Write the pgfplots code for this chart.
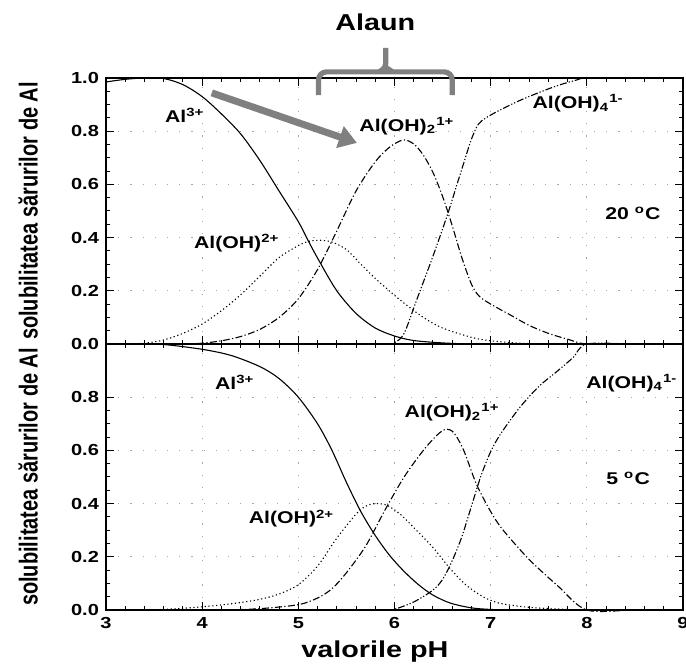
\documentclass[border=0pt]{standalone}
\usepackage{pgfplots}
\pgfplotsset{compat=1.18}
\usepackage{fontspec}
\setmainfont{Liberation Sans}
\usepackage{graphicx}
\usetikzlibrary{arrows.meta}
\definecolor{anngray}{RGB}{128,128,128}
\newcommand{\hs}[1]{\scalebox{1.25}[1]{#1}}
\tikzset{
  sdot/.style={dash pattern=on 0.6pt off 1.3pt},
  sdash/.style={dash pattern=on 3.5pt off 1.2pt on 0.6pt off 1.2pt},
  sdd/.style={dash pattern=on 3.5pt off 1pt on 0.6pt off 1pt on 0.6pt off 1pt},
  lab/.style={font=\bfseries\fontsize{8.5}{10}\selectfont},
}
\pgfplotsset{
  panel/.style={
    scale only axis, width=288.5pt, height=133pt,
    xmin=3, xmax=9, ymin=0, ymax=1,
    xtick={3,4,5,6,7,8,9}, minor x tick num=4, minor y tick num=3,
    tick align=inside,
    major tick length=4pt, minor tick length=2pt,
    grid=major,
    major grid style={gray!70, line width=0.5pt, dash pattern=on 0.6pt off 5.5pt},
    axis line style={line width=0.6pt},
    every tick/.style={black, line width=0.5pt},
    tick label style={font=\bfseries\fontsize{8}{9}\selectfont},
    /pgf/number format/assume math mode=true,
    clip=false,
    every axis plot/.append style={black, line width=0.55pt, no marks, smooth, tension=0.5},
    ylabel={\scalebox{1}[1.3]{\bfseries\fontsize{10}{12}\selectfont solubilitatea sărurilor de Al}},
    every axis y label/.append style={at={(axis description cs:-0.135,0.5)}, anchor=center},
    yticklabel={\hs{\pgfmathprintnumber[fixed,fixed zerofill,precision=1]{\tick}}},
  },
}
\begin{document}
\begin{tikzpicture}
% ---------------- bottom panel (5 C)
\begin{axis}[panel, at={(0,0)}, anchor=south west,
  ytick={0,0.2,0.4,0.6,0.8},
  xticklabel={\hs{\pgfmathprintnumber{\tick}}},
  xlabel={\hs{\bfseries\fontsize{11.5}{14}\selectfont valorile pH}},
  every axis x label/.append style={at={(axis description cs:0.466,-0.155)}, anchor=center},
]
\addplot[solid] coordinates {(3,1)(3.3,1)(3.6,0.998)(4.0,0.98)(4.3,0.957)(4.6,0.915)(4.8,0.87)(5.0,0.8)(5.2,0.7)(5.35,0.6)(5.5,0.48)(5.65,0.37)(5.8,0.28)(5.95,0.205)(6.1,0.145)(6.25,0.095)(6.4,0.056)(6.58,0.026)(6.8,0.008)(7.0,0.002)(7.2,0)(7.6,0)(8,0)(8.5,0)(9,0)};
\addplot[sdot] coordinates {(3,0)(3.4,0)(3.7,0.004)(4.0,0.012)(4.2,0.019)(4.4,0.028)(4.6,0.04)(4.8,0.06)(5.0,0.095)(5.2,0.165)(5.4,0.27)(5.6,0.36)(5.7,0.39)(5.8,0.4)(5.92,0.394)(6.06,0.36)(6.2,0.31)(6.4,0.235)(6.58,0.155)(6.75,0.092)(6.93,0.048)(7.1,0.025)(7.4,0.01)(7.8,0.002)(8,0)(8.5,0)(9,0)};
\addplot[sdash] coordinates {(3,0)(3.6,0)(4.2,0)(4.6,0.005)(5.0,0.02)(5.2,0.045)(5.35,0.08)(5.5,0.14)(5.7,0.24)(5.9,0.375)(6.1,0.5)(6.3,0.6)(6.45,0.66)(6.54,0.68)(6.62,0.665)(6.72,0.6)(6.85,0.475)(7.0,0.37)(7.13,0.30)(7.4,0.19)(7.7,0.09)(8.0,0)(8.5,0)(9,0)};
\addplot[sdd] coordinates {(3,0)(4,0)(5,0)(5.9,0)(6.0,0.003)(6.2,0.03)(6.4,0.075)(6.5,0.115)(6.6,0.185)(6.7,0.275)(6.8,0.39)(6.9,0.505)(7.0,0.595)(7.1,0.66)(7.3,0.76)(7.5,0.84)(7.7,0.9)(7.86,0.95)(8.0,1.0)(8.5,1.0)(9,1.0)};
\node[lab] at (axis cs:4.34,0.857) {\hs{Al\textsuperscript{3+}}};
\node[lab] at (axis cs:6.6,0.743) {\hs{Al(OH)\textsubscript{2}\textsuperscript{1+}}};
\node[lab] at (axis cs:8.47,0.853) {\hs{Al(OH)\textsubscript{4}\textsuperscript{1-}}};
\node[lab] at (axis cs:4.93,0.343) {\hs{Al(OH)\textsuperscript{2+}}};
\node[lab] at (axis cs:8.43,0.494) {\hs{5 \textsuperscript{o}C}};
\end{axis}
% ---------------- top panel (20 C)
\begin{axis}[panel, at={(0,133pt)}, anchor=south west,
  ytick={0,0.2,0.4,0.6,0.8,1.0},
  xticklabels={},
]
\addplot[solid] coordinates {(3.0,0.985)(3.2,0.995)(3.4,1.0)(3.6,0.998)(3.8,0.975)(4.0,0.93)(4.2,0.865)(4.4,0.79)(4.6,0.69)(4.8,0.575)(5.0,0.46)(5.1,0.39)(5.22,0.31)(5.4,0.2)(5.6,0.115)(5.8,0.06)(6.0,0.03)(6.2,0.013)(6.5,0.004)(6.8,0.0)(7.2,0)(7.6,0)(8,0)(8.5,0)(9,0)};
\addplot[sdot] coordinates {(3,0)(3.2,0)(3.4,0.003)(3.6,0.015)(3.8,0.04)(4.0,0.075)(4.2,0.125)(4.4,0.185)(4.6,0.255)(4.8,0.325)(5.0,0.37)(5.1,0.385)(5.22,0.39)(5.35,0.383)(5.5,0.355)(5.65,0.3)(5.82,0.24)(6.06,0.165)(6.3,0.1)(6.5,0.06)(6.8,0.025)(7.0,0.012)(7.3,0.003)(7.6,0)(8,0)(8.5,0)(9,0)};
\addplot[sdash] coordinates {(3,0)(3.4,0)(3.8,0)(4.0,0.003)(4.2,0.012)(4.4,0.028)(4.6,0.055)(4.8,0.1)(5.0,0.17)(5.2,0.28)(5.4,0.425)(5.6,0.575)(5.8,0.685)(5.95,0.74)(6.09,0.767)(6.2,0.752)(6.3,0.71)(6.4,0.645)(6.5,0.555)(6.6,0.445)(6.7,0.325)(6.8,0.225)(6.88,0.18)(7.0,0.15)(7.2,0.11)(7.4,0.07)(7.6,0.04)(7.8,0.018)(8.0,0)(8.5,0)(9,0)};
\addplot[sdd] coordinates {(3,0)(4,0)(5,0)(5.9,0)(6.0,0.005)(6.1,0.04)(6.23,0.165)(6.4,0.33)(6.55,0.485)(6.65,0.6)(6.72,0.68)(6.8,0.77)(6.87,0.825)(6.95,0.85)(7.1,0.88)(7.3,0.915)(7.5,0.945)(7.7,0.972)(7.9,0.993)(8.0,1.0)(8.5,1.0)(9,1.0)};
\node[lab] at (axis cs:3.82,0.86) {\hs{Al\textsuperscript{3+}}};
\node[lab] at (axis cs:6.13,0.82) {\hs{Al(OH)\textsubscript{2}\textsuperscript{1+}}};
\node[lab] at (axis cs:7.91,0.905) {\hs{Al(OH)\textsubscript{4}\textsuperscript{1-}}};
\node[lab] at (axis cs:4.36,0.38) {\hs{Al(OH)\textsuperscript{2+}}};
\node[lab] at (axis cs:8.48,0.49) {\hs{20 \textsuperscript{o}C}};
% annotations
\draw[anngray, line width=3.5pt, -{Triangle[length=9pt,width=11pt]}] (axis cs:4.10,0.944) -- (axis cs:5.61,0.756);
\draw[anngray, line width=2.6pt, rounded corners=4pt] (axis cs:5.21,0.936) -- (axis cs:5.21,1.023) -- (axis cs:6.60,1.023) -- (axis cs:6.60,0.936);
\draw[anngray, line width=2.6pt, rounded corners=2pt] (axis cs:5.84,1.023) -- (axis cs:5.91,1.04) -- (axis cs:5.91,1.113);
\draw[anngray, line width=2.6pt, rounded corners=2pt] (axis cs:5.98,1.023) -- (axis cs:5.91,1.04);
\node[font=\bfseries\fontsize{11.5}{14}\selectfont] at (axis cs:5.8,1.21) {\hs{Alaun}};
\end{axis}
\pgfresetboundingbox
\useasboundingbox (-53pt,-28.5pt) rectangle (290pt,305pt);
\end{tikzpicture}
\end{document}
